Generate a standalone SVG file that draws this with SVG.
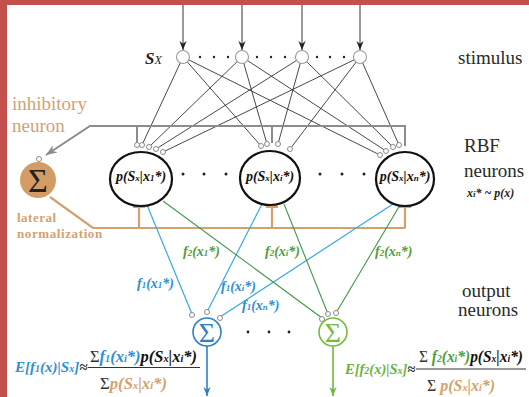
<svg xmlns="http://www.w3.org/2000/svg" width="529" height="397" viewBox="0 0 529 397" font-family="'Liberation Serif', 'DejaVu Serif', serif">
<defs>
<style>
text{font-family:"Liberation Serif","DejaVu Serif",serif}
.bi{font-weight:bold;font-style:italic}
.big{font-size:19px;fill:#2a2a2a}
.tan{fill:#d4a16f}
.blue{fill:#2d8fd6}
.green{fill:#4f9e3a}
.sub{font-size:9px}
.fsub{font-size:10px}
.syn{fill:#fff;stroke:#8a8a8a;stroke-width:1}
.stim{fill:#fff;stroke:#9a9a9a;stroke-width:1.1}
.rbf{fill:#fff;stroke:#111;stroke-width:2.2}
.dot{fill:#222}
.in{stroke:#333;stroke-width:1}
.s2r{stroke:#333;stroke-width:0.9;fill:none}
.gray{stroke:#8c8c8c;stroke-width:2;fill:none}
.tanl{stroke:#d6a06c;stroke-width:2.2;fill:none}
.bl{stroke:#35aae2;stroke-width:1.2}
.gl{stroke:#3f9a48;stroke-width:1.1}
.sig{fill:#333;font-weight:normal;font-style:normal}
</style>
<marker id="ak" viewBox="0 0 10 10" refX="10" refY="5" markerWidth="9" markerHeight="10" orient="auto" markerUnits="userSpaceOnUse"><path d="M0,1 L10,5 L0,9 L3,5 z" fill="#222"/></marker>
<marker id="ag" viewBox="0 0 10 10" refX="10" refY="5" markerWidth="11" markerHeight="11" orient="auto" markerUnits="userSpaceOnUse"><path d="M0,1 L10,5 L0,9 L3,5 z" fill="#8c8c8c"/></marker>
<marker id="ab" viewBox="0 0 10 10" refX="10" refY="5" markerWidth="9" markerHeight="9" orient="auto" markerUnits="userSpaceOnUse"><path d="M0,1 L10,5 L0,9 L3,5 z" fill="#2f80c8"/></marker>
<marker id="agr" viewBox="0 0 10 10" refX="10" refY="5" markerWidth="9" markerHeight="9" orient="auto" markerUnits="userSpaceOnUse"><path d="M0,1 L10,5 L0,9 L3,5 z" fill="#6cb83c"/></marker>
</defs>
<rect width="529" height="397" fill="#fff"/>
<rect x="0" y="0" width="529" height="5" fill="#c4504e"/>
<rect x="0" y="0" width="7" height="397" fill="#c4504e"/>

<g id="connectors">
<line class="in" x1="183" y1="5" x2="183" y2="50" marker-end="url(#ak)"/>
<line class="in" x1="242" y1="5" x2="242" y2="50" marker-end="url(#ak)"/>
<line class="in" x1="302" y1="5" x2="302" y2="50" marker-end="url(#ak)"/>
<line class="in" x1="360" y1="5" x2="360" y2="50" marker-end="url(#ak)"/>
<path class="s2r" d="M183,57 L142,145 M242,57 L149,147 M302,57 L156,149 M360,57 L163,152"/>
<path class="s2r" d="M183,57 L261,146 M242,57 L267,144 M302,57 L278,144 M360,57 L290,149"/>
<path class="s2r" d="M183,57 L380,155 M242,57 L386,151 M302,57 L393,147 M360,57 L399,145"/>
<path class="gray" d="M405,146 V126 H90 L46,155" marker-end="url(#ag)"/>
<path class="gray" d="M137,126 V144 M272,126 V143"/>
<path class="tanl" d="M50,197 L93,228 H405 M139,228 V207 M272,228 V207 M405,228 V207 M133,207 H145 M266,207 H278 M399,207 H411"/>
<line class="bl" x1="147" y1="205" x2="192" y2="314"/>
<line class="bl" x1="262" y1="204" x2="207" y2="312"/>
<line class="bl" x1="396" y1="202" x2="220" y2="317"/>
<line class="gl" x1="163" y1="201" x2="322" y2="318"/>
<line class="gl" x1="284" y1="204" x2="328" y2="314"/>
<line class="gl" x1="400" y1="205" x2="336" y2="313"/>
<line x1="207" y1="346" x2="207" y2="396" stroke="#2f80c8" stroke-width="1.6" marker-end="url(#ab)"/>
<line x1="333" y1="346" x2="333" y2="396" stroke="#6cb83c" stroke-width="1.6" marker-end="url(#agr)"/>
</g>

<g id="stimulus">
<text x="145" y="64" class="bi" font-size="17" fill="#222">S<tspan font-size="12" font-weight="normal">X</tspan></text>
<circle class="stim" cx="183" cy="57" r="6.5"/>
<circle class="stim" cx="242" cy="57" r="6.5"/>
<circle class="stim" cx="302" cy="57" r="6.5"/>
<circle class="stim" cx="360" cy="57" r="6.5"/>
<g class="dot">
<circle cx="200" cy="57" r="1.2"/><circle cx="214" cy="57" r="1.2"/><circle cx="228" cy="57" r="1.2"/>
<circle cx="257" cy="57" r="1.2"/><circle cx="271" cy="57" r="1.2"/><circle cx="285" cy="57" r="1.2"/>
<circle cx="317" cy="57" r="1.2"/><circle cx="330" cy="57" r="1.2"/><circle cx="344" cy="57" r="1.2"/>
</g>
<text x="458" y="64" class="big">stimulus</text>
</g>

<g id="inhibitory-neuron">
<text x="12" y="110" font-size="19" class="tan">inhibitory</text>
<text x="12" y="132" font-size="19" class="tan">neuron</text>
<circle cx="38" cy="180" r="18" fill="#d49b65"/>
<text x="38" y="192" font-size="34" text-anchor="middle" fill="#222">Σ</text>
<circle class="syn" cx="39" cy="159" r="2.5"/>
<text x="17" y="222" font-size="13" font-weight="bold" letter-spacing="0.5" class="tan">lateral</text>
<text x="17" y="238" font-size="13" font-weight="bold" letter-spacing="0.6" class="tan">normalization</text>
</g>

<g id="rbf1">
<ellipse class="rbf" cx="141" cy="179" rx="31" ry="27"/>
<text x="141" y="181" class="bi" font-size="14" text-anchor="middle" fill="#111">p(S<tspan class="sub">x</tspan>|x<tspan class="sub">1</tspan>*)</text>
<circle class="syn" cx="137" cy="145" r="2.5"/><circle class="syn" cx="142" cy="145" r="2.5"/><circle class="syn" cx="149" cy="147" r="2.5"/><circle class="syn" cx="156" cy="149" r="2.5"/><circle class="syn" cx="163" cy="152" r="2.5"/>
</g>
<g id="rbf2">
<ellipse class="rbf" cx="270" cy="178" rx="30" ry="27"/>
<text x="270" y="181" class="bi" font-size="14" text-anchor="middle" fill="#111">p(S<tspan class="sub">x</tspan>|x<tspan class="sub">i</tspan>*)</text>
<circle class="syn" cx="261" cy="146" r="2.5"/><circle class="syn" cx="267" cy="144" r="2.5"/><circle class="syn" cx="278" cy="144" r="2.5"/><circle class="syn" cx="290" cy="149" r="2.5"/>
</g>
<g id="rbf3">
<ellipse class="rbf" cx="405" cy="179" rx="29" ry="27"/>
<text x="405" y="181" class="bi" font-size="14" text-anchor="middle" fill="#111">p(S<tspan class="sub">x</tspan>|x<tspan class="sub">n</tspan>*)</text>
<circle class="syn" cx="380" cy="155" r="2.5"/><circle class="syn" cx="386" cy="151" r="2.5"/><circle class="syn" cx="393" cy="147" r="2.5"/><circle class="syn" cx="399" cy="145" r="2.5"/>
</g>
<g id="rbf-dots" class="dot">
<circle cx="183" cy="174" r="1.5"/><circle cx="204" cy="174" r="1.5"/><circle cx="226" cy="174" r="1.5"/>
<circle cx="320" cy="174" r="1.5"/><circle cx="342" cy="174" r="1.5"/><circle cx="364" cy="174" r="1.5"/>
</g>
<g id="rbf-label">
<text x="464" y="152" class="big">RBF</text>
<text x="464" y="177" class="big">neurons</text>
<text x="467" y="197" class="bi" font-size="12" fill="#222">x<tspan class="sub">i</tspan>* ~ p(x)</text>
</g>

<g id="weights" class="bi" font-size="14">
<text x="137" y="288" class="blue">f<tspan class="sub">1</tspan>(x<tspan class="sub">1</tspan>*)</text>
<text x="221" y="291" class="blue">f<tspan class="sub">1</tspan>(x<tspan class="sub">i</tspan>*)</text>
<text x="242" y="310" class="blue">f<tspan class="sub">1</tspan>(x<tspan class="sub">n</tspan>*)</text>
<text x="183" y="256" class="green">f<tspan class="sub">2</tspan>(x<tspan class="sub">1</tspan>*)</text>
<text x="265" y="256" class="green">f<tspan class="sub">2</tspan>(x<tspan class="sub">i</tspan>*)</text>
<text x="375" y="256" class="green">f<tspan class="sub">2</tspan>(x<tspan class="sub">n</tspan>*)</text>
</g>

<g id="out1">
<circle cx="207" cy="332" r="14" fill="#fff" stroke="#2f80c8" stroke-width="1.6"/>
<text x="207" y="342" font-size="28" text-anchor="middle" fill="#2f80c8">Σ</text>
<circle class="syn" cx="192" cy="315" r="2.5"/><circle class="syn" cx="207" cy="312" r="2.5"/><circle class="syn" cx="220" cy="318" r="2.5"/>
</g>
<g id="out2">
<circle cx="333" cy="332" r="14" fill="#fff" stroke="#74bd3f" stroke-width="1.6"/>
<text x="333" y="342" font-size="28" text-anchor="middle" fill="#74bd3f">Σ</text>
<circle class="syn" cx="322" cy="319" r="2.5"/><circle class="syn" cx="328" cy="314" r="2.5"/><circle class="syn" cx="336" cy="313" r="2.5"/>
</g>
<g id="out-dots" class="dot">
<circle cx="248" cy="332" r="1.4"/><circle cx="269" cy="332" r="1.4"/><circle cx="289" cy="332" r="1.4"/>
</g>
<g id="out-label">
<text x="462" y="297" class="big">output</text>
<text x="458" y="316" class="big">neurons</text>
</g>

<g id="formula1" class="bi" font-size="16">
<text x="15" y="372" class="blue" font-size="15">E[f<tspan class="fsub">1</tspan>(x)|S<tspan class="fsub">x</tspan>]<tspan fill="#333">≈</tspan></text>
<text x="90" y="362" textLength="107" lengthAdjust="spacingAndGlyphs"><tspan class="sig">Σ</tspan><tspan class="blue">f<tspan class="fsub">1</tspan>(x<tspan class="fsub">i</tspan>*)</tspan><tspan fill="#111">p(S<tspan class="fsub">x</tspan>|x<tspan class="fsub">i</tspan>*)</tspan></text>
<line x1="88" y1="367.5" x2="200" y2="367.5" stroke="#333" stroke-width="1"/>
<text x="100" y="389" textLength="67" lengthAdjust="spacingAndGlyphs"><tspan class="sig">Σ</tspan><tspan class="tan">p(S<tspan class="fsub">x</tspan>|x<tspan class="fsub">i</tspan>*)</tspan></text>
</g>
<g id="formula2" class="bi" font-size="16">
<text x="345" y="374" fill="#6ab43a" font-size="14.5">E[f<tspan class="fsub">2</tspan>(x)|S<tspan class="fsub">x</tspan>]<tspan fill="#333">≈</tspan></text>
<text x="419" y="362" textLength="104" lengthAdjust="spacingAndGlyphs"><tspan class="sig">Σ </tspan><tspan class="green">f<tspan class="fsub">2</tspan>(x<tspan class="fsub">i</tspan>*)</tspan><tspan fill="#111">p(S<tspan class="fsub">x</tspan>|x<tspan class="fsub">i</tspan>*)</tspan></text>
<line x1="416" y1="369" x2="526" y2="369" stroke="#333" stroke-width="1"/>
<text x="427" y="391" textLength="68" lengthAdjust="spacingAndGlyphs"><tspan class="sig">Σ </tspan><tspan class="tan">p(S<tspan class="fsub">x</tspan>|x<tspan class="fsub">i</tspan>*)</tspan></text>
</g>
</svg>
